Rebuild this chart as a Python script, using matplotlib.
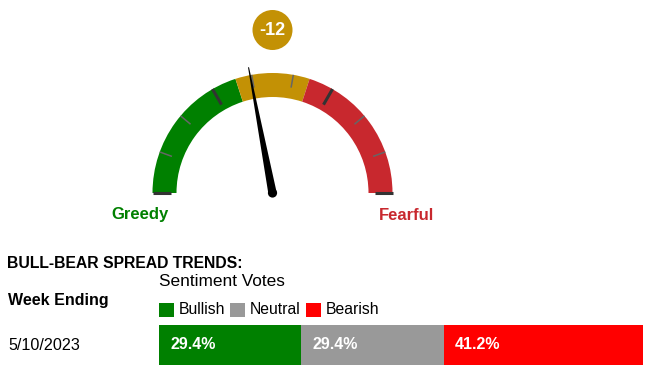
import numpy as np
import matplotlib
matplotlib.use("Agg")
import matplotlib.pyplot as plt
from matplotlib.patches import Wedge, Circle, Polygon, Rectangle

plt.rcParams["font.family"] = ["Liberation Sans", "DejaVu Sans"]

# gauge data: bull-bear spread in [-100, 100]
band_edges = [-100, -20, 20, 100]
band_colors = ["#008000", "#c39105", "#c8282e"]
spread = -12
tick_values = np.linspace(-100, 100, 10)

# sentiment votes
week = "5/10/2023"
vote_names = ["Bullish", "Neutral", "Bearish"]
vote_pcts = [29.4, 29.4, 41.2]
vote_colors = ["#008000", "#999999", "#ff0000"]

W, H = 646, 367
fig = plt.figure(figsize=(W / 100, H / 100), dpi=100)
ax = fig.add_axes([0, 0, 1, 1])
ax.set_xlim(0, W)
ax.set_ylim(H, 0)
ax.axis("off")

cx, cy = 272.5, 193
r_out, r_in = 120, 96


def ang(v):
    # screen angle in degrees (counterclockwise), -100 -> 180, 100 -> 0
    return 90 - 0.9 * v


# bands (y axis is inverted, so flip the angles)
for lo, hi, col in zip(band_edges[:-1], band_edges[1:], band_colors):
    ax.add_patch(Wedge((cx, cy), r_out, -ang(lo), -ang(hi),
                       width=r_out - r_in, facecolor=col, edgecolor="none"))

# ticks, a heavier one every third
for i, v in enumerate(tick_values):
    a = np.radians(ang(v))
    if i % 3 == 0:
        r0, col, lw = 102, "#333333", 2.2
    else:
        r0, col, lw = 107, "#666666", 1.1
    ax.plot([cx + r0 * np.cos(a), cx + r_out * np.cos(a)],
            [cy - r0 * np.sin(a), cy - r_out * np.sin(a)],
            color=col, lw=lw, solid_capstyle="butt", zorder=3)

# needle
a = np.radians(ang(spread))
d = np.array([np.cos(a), -np.sin(a)])
n = np.array([np.sin(a), np.cos(a)])
c = np.array([cx, cy])
tip = c + d * 128
needle = [c + n * 4.2, tip + n * 0.5, tip - n * 0.5, c - n * 4.2]
ax.add_patch(Polygon(needle, closed=True, facecolor="black", edgecolor="none", zorder=4))
ax.add_patch(Circle((cx, cy), 4.6, facecolor="black", edgecolor="none", zorder=4))

# value badge
ax.add_patch(Circle((cx, 30), 20, facecolor=band_colors[1], edgecolor="none"))
ax.text(cx, 30.5, str(spread), color="white", fontsize=13, fontweight="bold",
        ha="center", va="center")

ax.text(140, 215, "Greedy", color=band_colors[0], fontsize=12, fontweight="bold",
        ha="center", va="center")
ax.text(406, 215, "Fearful", color=band_colors[2], fontsize=12, fontweight="bold",
        ha="center", va="center")

# lower section
ax.text(7, 263, "BULL-BEAR SPREAD TRENDS:", fontsize=11.3, fontweight="bold",
        ha="left", va="center")
ax.text(159, 282, "Sentiment Votes", fontsize=12.4, ha="left", va="center")
ax.text(8, 300, "Week Ending", fontsize=11.5, fontweight="bold", ha="left", va="center")
ax.text(8, 345, week, fontsize=11.6, ha="left", va="center")

for x0, name, col in zip([159, 230, 306], vote_names, vote_colors):
    ax.add_patch(Rectangle((x0, 302.5), 15, 14.5, facecolor=col, edgecolor="none"))
    ax.text(x0 + 20, 309.5, name, fontsize=11.3, ha="left", va="center")

# stacked bar
bx = fig.add_axes([159 / W, 1 - 364.5 / H, 484 / W, 39.5 / H])
bx.set_xlim(0, 100)
bx.set_ylim(-0.5, 0.5)
bx.axis("off")
left = np.concatenate([[0], np.cumsum(vote_pcts)[:-1]])
bx.barh(0, vote_pcts, left=left, height=1.0, color=vote_colors)
for l, p in zip(left, vote_pcts):
    bx.text(l + 2.4, 0, f"{p:.1f}%", color="white", fontsize=11.5, fontweight="bold",
            ha="left", va="center")

fig.savefig("out.png", dpi=100)
